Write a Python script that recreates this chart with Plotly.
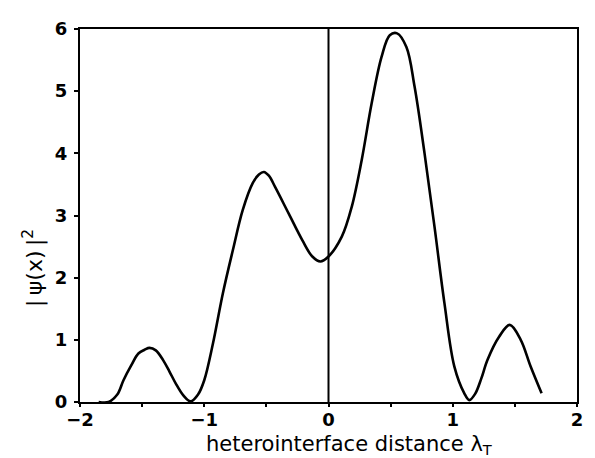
import plotly.graph_objects as go

# probability density |psi(x)|^2 versus heterointerface distance
distance = [-1.85, -1.77, -1.70, -1.65, -1.59, -1.53, -1.48, -1.44, -1.39, -1.33,
            -1.28, -1.23, -1.17, -1.11, -1.05, -1.0, -0.93, -0.85, -0.77, -0.69,
            -0.61, -0.56, -0.52, -0.48, -0.43, -0.32, -0.21, -0.13, -0.066, 0.0,
            0.107, 0.187, 0.267, 0.347, 0.427, 0.493, 0.552, 0.627, 0.693, 0.773,
            0.853, 0.933, 1.013, 1.093, 1.133, 1.18, 1.23, 1.28, 1.373, 1.459,
            1.547, 1.627, 1.715]
psi_sq = [0.0, 0.0, 0.12, 0.35, 0.58, 0.78, 0.84, 0.87, 0.83, 0.67,
          0.49, 0.30, 0.11, 0.01, 0.12, 0.35, 0.94, 1.75, 2.44, 3.09,
          3.52, 3.66, 3.70, 3.64, 3.46, 3.03, 2.60, 2.34, 2.26, 2.34,
          2.66, 3.14, 3.89, 4.80, 5.55, 5.90, 5.93, 5.71, 5.07, 4.0,
          2.82, 1.59, 0.57, 0.14, 0.03, 0.13, 0.38, 0.68, 1.05, 1.24,
          1.0, 0.57, 0.14]

x_ticks = [-2, -1, 0, 1, 2]
y_ticks = [0, 1, 2, 3, 4, 5, 6]

fig = go.Figure()

# interface position
fig.add_trace(go.Scatter(x=[0, 0], y=[0, 6], mode="lines",
                         line=dict(color="black", width=2), hoverinfo="skip"))

fig.add_trace(go.Scatter(x=distance, y=psi_sq, mode="lines",
                         line=dict(color="black", width=2.6, shape="spline", smoothing=1.0)))

tick_font = dict(family="DejaVu Sans", size=18, color="black", weight="bold")

fig.update_layout(
    width=595, height=458,
    margin=dict(l=80, r=15, t=29, b=56),
    paper_bgcolor="white", plot_bgcolor="white",
    showlegend=False,
    xaxis=dict(range=[-2, 2], tickvals=x_ticks, ticktext=["\u22122", "\u22121", "0", "1", "2"],
               ticks="outside", ticklen=3, tickwidth=2, tickcolor="black",
               ticklabelstandoff=-3,
               minor=dict(dtick=0.5, ticks="outside", ticklen=3, tickwidth=2, tickcolor="black"),
               showline=True, linecolor="black", linewidth=2, mirror=True,
               showgrid=False, zeroline=False, tickfont=tick_font),
    yaxis=dict(range=[0, 6], tickvals=y_ticks,
               ticks="outside", ticklen=4, tickwidth=2, tickcolor="black",
               ticklabelstandoff=3,
               showline=True, linecolor="black", linewidth=2, mirror=True,
               showgrid=False, zeroline=False, tickfont=tick_font),
    annotations=[
        dict(text="heterointerface distance \u03bb<sub>T</sub>", x=0.25, y=-0.114,
             xref="paper", yref="paper", xanchor="left", yanchor="middle",
             showarrow=False, font=dict(family="DejaVu Sans", size=21, color="black")),
        dict(text="|\u2009\u03c8(x)\u2009|<sup>2</sup>", x=-0.094, y=0.36,
             xref="paper", yref="paper", xanchor="center", yanchor="middle",
             textangle=-90, showarrow=False,
             font=dict(family="DejaVu Sans", size=22, color="black")),
    ],
)

fig.write_html("out.html")
